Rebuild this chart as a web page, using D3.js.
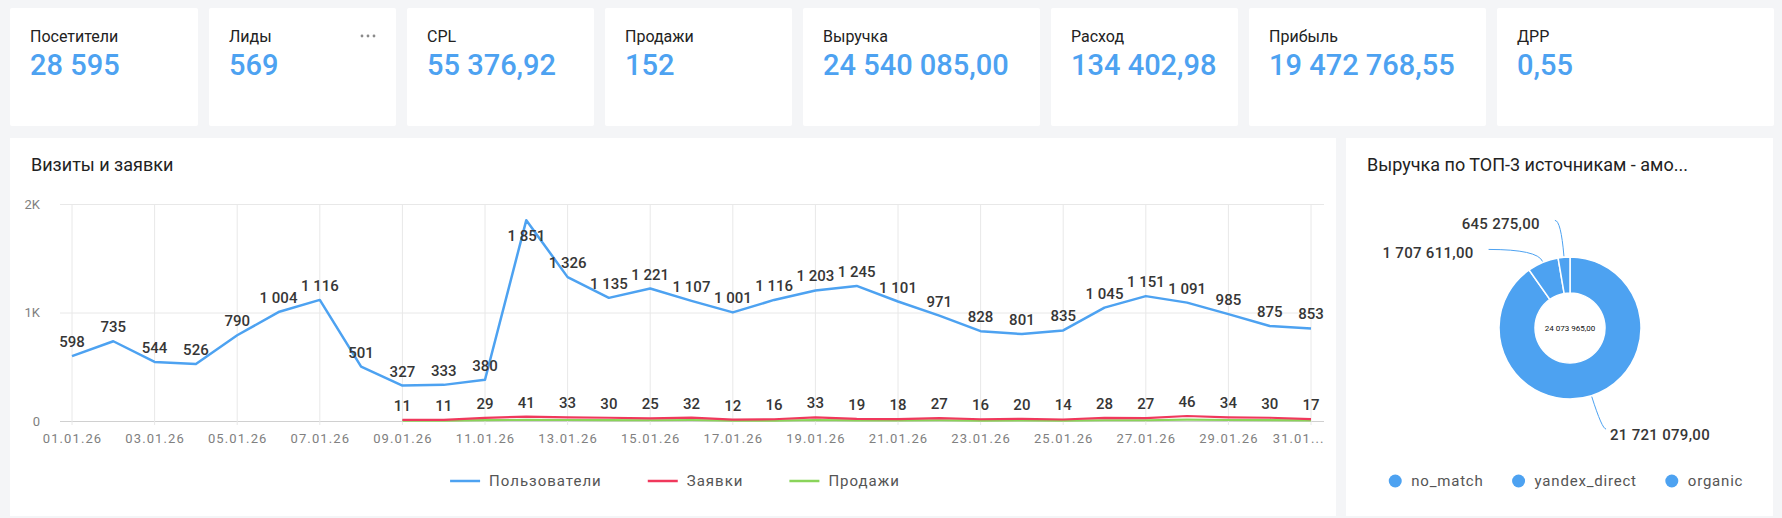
<!DOCTYPE html>
<html>
<head>
<meta charset="utf-8">
<script src="https://cdn.jsdelivr.net/npm/d3@7"></script>
<style>
  body { margin: 0; background: #f4f5f7; overflow: hidden; font-family: Roboto, "Noto Sans", sans-serif; }
</style>
</head>
<body>
<svg id="dash"></svg>
<script>
const W = 1782, H = 518;
const blue = "#4da2f1";

// KPI cards
const cardTitles = ["Посетители", "Лиды", "CPL", "Продажи", "Выручка", "Расход", "Прибыль", "ДРР"];
const cardValues = [28595, 569, 55376.92, 152, 24540085, 134402.98, 19472768.55, 0.55];
const cardDecimals = [0, 0, 2, 0, 2, 2, 2, 2];
const cardWidths = [188, 187, 187, 187, 237, 187, 237, 277];

// line chart
const days = ["01.01.26", "02.01.26", "03.01.26", "04.01.26", "05.01.26", "06.01.26", "07.01.26", "08.01.26",
  "09.01.26", "10.01.26", "11.01.26", "12.01.26", "13.01.26", "14.01.26", "15.01.26", "16.01.26",
  "17.01.26", "18.01.26", "19.01.26", "20.01.26", "21.01.26", "22.01.26", "23.01.26", "24.01.26",
  "25.01.26", "26.01.26", "27.01.26", "28.01.26", "29.01.26", "30.01.26", "31.01.26"];
const users = [598, 735, 544, 526, 790, 1004, 1116, 501, 327, 333, 380, 1851, 1326, 1135, 1221, 1107,
  1001, 1116, 1203, 1245, 1101, 971, 828, 801, 835, 1045, 1151, 1091, 985, 875, 853];
const leads = [null, null, null, null, null, null, null, null, 11, 11, 29, 41, 33, 30, 25, 32,
  12, 16, 33, 19, 18, 27, 16, 20, 14, 28, 27, 46, 34, 30, 17];
const sales = [null, null, null, null, null, null, null, null, 3, 4, 8, 10, 9, 8, 7, 9,
  3, 4, 9, 5, 5, 7, 4, 5, 4, 7, 7, 12, 9, 8, 5];
const seriesNames = ["Пользователи", "Заявки", "Продажи"];
const seriesColors = [blue, "#f0385c", "#8ad45a"];
const yTicks = [0, 1000, 2000];

// donut
const sources = ["no_match", "yandex_direct", "organic"];
const revenue = [21721079, 1707611, 645275];

const locale = d3.formatLocale({ decimal: ",", thousands: "\u00a0", grouping: [3], currency: ["", ""] });
const fmt0 = locale.format(",d"), fmt2 = locale.format(",.2f");

const svg = d3.select("#dash").attr("width", W).attr("height", H);
svg.append("rect").attr("width", W).attr("height", H).attr("fill", "#f4f5f7");

// ---- cards
let cx0 = 10;
const cardX = cardWidths.map((w) => { const x = cx0; cx0 += w + 11; return x; });

const cards = svg.selectAll("g.card").data(cardTitles).join("g")
  .attr("class", "card")
  .attr("transform", (d, i) => `translate(${cardX[i]},8)`);

cards.append("rect")
  .attr("width", (d, i) => cardWidths[i]).attr("height", 118)
  .attr("rx", 2).attr("fill", "#fff");

cards.append("text")
  .attr("x", 20).attr("y", 34)
  .style("font-size", "16px").attr("fill", "#222")
  .text((d) => d);

cards.append("text")
  .attr("x", 20).attr("y", 67)
  .style("font-size", "29px").style("font-weight", 500).attr("fill", blue)
  .text((d, i) => cardDecimals[i] ? fmt2(cardValues[i]) : fmt0(cardValues[i]));

// "..." menu on Лиды card
cards.filter((d, i) => i === 1).selectAll("circle.dot").data([-6, 0, 6]).join("circle")
  .attr("cx", (d) => 159 + d).attr("cy", 28).attr("r", 1.4).attr("fill", "#8a8a8a");

// ---- line chart panel
const panel = { x: 10, y: 138, w: 1326, h: 378 };
svg.append("rect").attr("x", panel.x).attr("y", panel.y).attr("width", panel.w).attr("height", panel.h).attr("fill", "#fff");
svg.append("text").attr("x", 31).attr("y", 171)
  .style("font-size", "18px").attr("fill", "#222").text("Визиты и заявки");

const plot = { left: 60, right: 1324, top: 204, bottom: 421 };
const x = d3.scalePoint().domain(days).range([72, 1311]);
const y = d3.scaleLinear().domain([0, 2000]).range([plot.bottom, plot.top]);

const yAxis = svg.append("g")
  .attr("transform", `translate(${plot.left},0)`)
  .call(d3.axisLeft(y).tickValues(yTicks).tickSize(-(plot.right - plot.left)).tickPadding(20)
    .tickFormat((d) => d === 0 ? "0" : d / 1000 + "K"));
yAxis.select(".domain").remove();
yAxis.selectAll(".tick line").attr("stroke", (d) => d === 0 ? "#d0d0d0" : "#e8e8e8");
yAxis.selectAll(".tick text").attr("fill", "#808080").style("font-size", "13px").style("font-family", "Roboto");

const tickDays = days.filter((d, i) => i % 2 === 0);

svg.append("g").selectAll("line").data(tickDays).join("line")
  .attr("x1", (d) => x(d)).attr("x2", (d) => x(d))
  .attr("y1", plot.top).attr("y2", plot.bottom + 4)
  .attr("stroke", "#e8e8e8");

const xAxis = svg.append("g")
  .attr("transform", `translate(0,${plot.bottom})`)
  .call(d3.axisBottom(x).tickValues(tickDays).tickSize(0).tickPadding(13));
xAxis.select(".domain").remove();
xAxis.selectAll(".tick text").attr("fill", "#808080")
  .style("font-size", "13px").style("letter-spacing", "1.1px").style("font-family", "Roboto");

// truncate last label if it runs past the plot
const tickTexts = xAxis.selectAll(".tick text").nodes();
const lastT = tickTexts[tickTexts.length - 1];
const prevT = tickTexts[tickTexts.length - 2];
const lastX = x(tickDays[tickDays.length - 1]);
if (lastX + lastT.getComputedTextLength() / 2 > plot.right) {
  const prevRight = x(tickDays[tickDays.length - 2]) + prevT.getComputedTextLength() / 2;
  const avail = plot.right - (prevRight + 11);
  let s = d3.select(lastT).text();
  while (s.length > 1 && lastT.getComputedTextLength() > avail) {
    s = s.slice(0, -1);
    d3.select(lastT).text(s + "...");
  }
  d3.select(lastT).attr("text-anchor", "end").attr("x", plot.right - lastX);
}

const series = [users, leads, sales];
const line = d3.line()
  .defined((v) => v != null)
  .x((v, i) => x(days[i]))
  .y((v) => y(v));

[sales, leads, users].forEach((s) => {
  const k = series.indexOf(s);
  svg.append("path")
    .datum(s)
    .attr("fill", "none")
    .attr("stroke", seriesColors[k])
    .attr("stroke-width", k === 0 ? 2.5 : 2.2)
    .attr("stroke-linejoin", "round")
    .attr("d", line);
});

// data labels for users and leads
[users, leads].forEach((s) => {
  svg.append("g").selectAll("text")
    .data(s.map((v, i) => ({ v, d: days[i] })).filter((p) => p.v != null))
    .join("text")
    .attr("x", (p) => x(p.d))
    .attr("y", (p) => (y(p.v) - 21 < plot.top ? y(p.v) + 21 : y(p.v) - 9))
    .attr("text-anchor", "middle")
    .style("font-size", "15px").style("font-weight", 500)
    .attr("fill", "#363636")
    .text((p) => fmt0(p.v));
});

// legend
const legend = svg.append("g").attr("transform", "translate(0,481)");
let lx = 0;
seriesNames.forEach((name, i) => {
  const gI = legend.append("g");
  gI.append("line").attr("x1", 0).attr("x2", 30).attr("stroke", seriesColors[i]).attr("stroke-width", 2.5);
  const t = gI.append("text").attr("x", 39).attr("dy", "0.35em")
    .style("font-size", "15px").style("letter-spacing", "1px").attr("fill", "#555").text(name);
  const w = 39 + t.node().getComputedTextLength();
  gI.attr("transform", `translate(${lx},0)`);
  lx += w + 46;
});
const legW = lx - 46;
legend.attr("transform", `translate(${panel.x + panel.w / 2 - legW / 2 + 2},481)`);

// ---- donut panel
const dp = { x: 1346, y: 138, w: 427, h: 378 };
svg.append("rect").attr("x", dp.x).attr("y", dp.y).attr("width", dp.w).attr("height", dp.h).attr("fill", "#fff");
svg.append("text").attr("x", 1367).attr("y", 171)
  .style("font-size", "18px").attr("fill", "#222").text("Выручка по ТОП-3 источникам - амо...");

const center = [1570, 328];
const rOut = 71, rIn = 35;
const pie = d3.pie().sort(null).value((v) => v);
const arcs = pie(revenue);
const arc = d3.arc().innerRadius(rIn).outerRadius(rOut);

const donut = svg.append("g").attr("transform", `translate(${center[0]},${center[1]})`);
donut.selectAll("path").data(arcs).join("path")
  .attr("d", arc).attr("fill", blue).attr("stroke", "#fff").attr("stroke-width", 1.5);

donut.append("text").attr("text-anchor", "middle").attr("dy", "0.35em")
  .style("font-size", "8px").attr("fill", "#111")
  .text(fmt2(d3.sum(revenue)));

// label connectors
const labelLayout = [
  { ext: 35, tail: 4, gap: 4, dy: 6 },
  { ext: 14, tail: 49, gap: 15, dy: 3 },
  { ext: 37, tail: 6, gap: 15, dy: 3 }
];
arcs.forEach((a, i) => {
  const ang = (a.startAngle + a.endAngle) / 2;
  const L = labelLayout[i];
  const pt = (r) => [Math.sin(ang) * r, -Math.cos(ang) * r];
  const p0 = pt(rOut + 1), el = pt(rOut + L.ext);
  const dir = Math.sin(ang) >= 0 ? 1 : -1;
  const tEnd = [el[0] + dir * L.tail, el[1]];
  donut.append("path")
    .attr("d", `M${p0[0]},${p0[1]}Q${el[0]},${el[1]} ${tEnd[0]},${tEnd[1]}`)
    .attr("fill", "none").attr("stroke", blue).attr("stroke-width", 1);
  donut.append("text")
    .attr("x", tEnd[0] + dir * L.gap).attr("y", tEnd[1] + L.dy)
    .attr("dy", "0.35em")
    .attr("text-anchor", dir > 0 ? "start" : "end")
    .style("font-size", "15px").style("font-weight", 500).style("letter-spacing", "0.3px")
    .attr("fill", "#363636")
    .text(fmt2(revenue[i]));
});

// donut legend
const dLeg = svg.append("g");
let dx = 0;
sources.forEach((s) => {
  const gI = dLeg.append("g").attr("transform", `translate(${dx},0)`);
  gI.append("circle").attr("r", 6.5).attr("fill", blue);
  const t = gI.append("text").attr("x", 16).attr("dy", "0.35em")
    .style("font-size", "15px").style("letter-spacing", "0.8px").attr("fill", "#555").text(s);
  dx += 16 + t.node().getComputedTextLength() + 35;
});
const dW = dx - 35 + 6.5;
dLeg.attr("transform", `translate(${1566 - dW / 2 + 6.5},481)`);
</script>
</body>
</html>
